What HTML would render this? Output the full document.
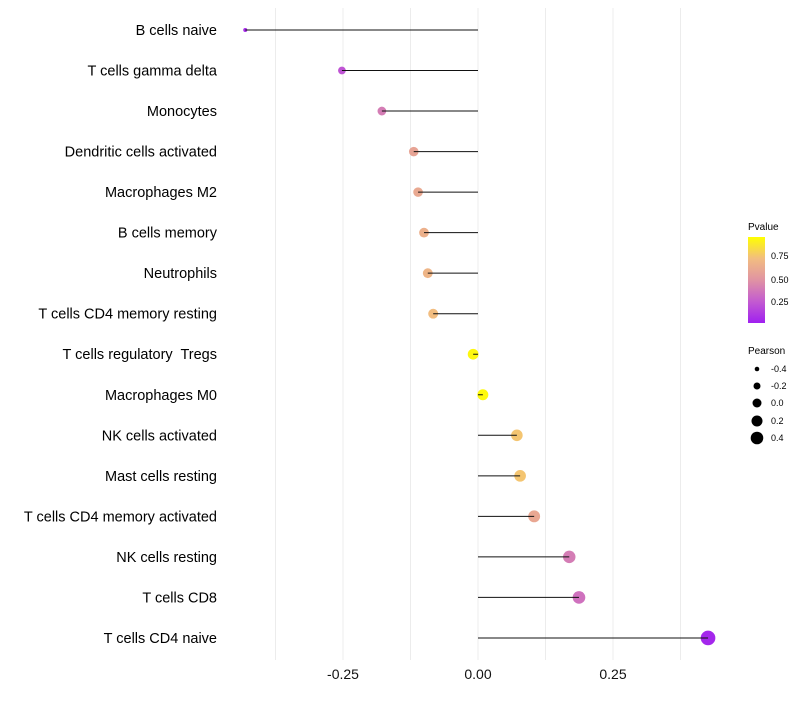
<!DOCTYPE html>
<html><head><meta charset="utf-8"><style>
body{margin:0;background:#fff;font-family:"Liberation Sans",sans-serif}
text{white-space:pre}
</style></head><body>
<svg id="chart" width="800" height="700" xmlns="http://www.w3.org/2000/svg">
<defs><linearGradient id="pg" x1="0" y1="1" x2="0" y2="0">
<stop offset="0" stop-color="#a020f0"/><stop offset="0.25" stop-color="#c35bd0"/><stop offset="0.5" stop-color="#e093a3"/><stop offset="0.75" stop-color="#f2bd80"/><stop offset="1" stop-color="#ffff00"/>
</linearGradient></defs>
<g id="grid"></g><g id="dots"></g><g id="marks"></g><g id="labels"></g>
<g font-size="9">
<text x="748" y="230" font-size="10">Pvalue</text>
<rect x="748" y="237" width="17" height="86" fill="url(#pg)"/>
<text x="771" y="259">0.75</text><text x="771" y="283">0.50</text><text x="771" y="305">0.25</text>
</g>
<g font-size="9">
<text x="748" y="354" font-size="10">Pearson</text>
<circle cx="757" cy="369" r="2.3"/><text x="771" y="372">-0.4</text>
<circle cx="757" cy="386" r="3.5"/><text x="771" y="389">-0.2</text>
<circle cx="757" cy="403" r="4.5"/><text x="771" y="406">0.0</text>
<circle cx="757" cy="421" r="5.5"/><text x="771" y="424">0.2</text>
<circle cx="757" cy="438" r="6.3"/><text x="771" y="441">0.4</text>
</g>
</svg>
<script>
const categories=["B cells naive","T cells gamma delta","Monocytes","Dendritic cells activated","Macrophages M2","B cells memory","Neutrophils","T cells CD4 memory resting","T cells regulatory  Tregs","Macrophages M0","NK cells activated","Mast cells resting","T cells CD4 memory activated","NK cells resting","T cells CD8","T cells CD4 naive"];
const pearson=[-0.431,-0.252,-0.178,-0.119,-0.111,-0.1,-0.093,-0.083,-0.009,0.009,0.072,0.078,0.104,0.169,0.187,0.426];
const pvalue=[0.05,0.22,0.4,0.6,0.63,0.67,0.7,0.75,0.97,0.98,0.78,0.78,0.62,0.4,0.35,0.03];
const tickVals=[-0.25,0,0.25];
const tickLabels=["-0.25","0.00","0.25"];
const NS="http://www.w3.org/2000/svg";
const xs=v=>478+v*540;
const ys=i=>30+i*40.53;
const rs=v=>Math.sqrt(3+(v+0.431)*54)+0.3;
function col(p){const st=[[0,[160,32,240]],[0.25,[195,91,208]],[0.5,[224,147,163]],[0.75,[242,189,128]],[1,[255,255,0]]];
for(let i=1;i<st.length;i++){if(p<=st[i][0]){const a=st[i-1],b=st[i],t=(p-a[0])/(b[0]-a[0]);return `rgb(${a[1].map((c,k)=>Math.round(c+t*(b[1][k]-c))).join(',')})`;}}return 'rgb(255,255,0)';}
function mk(t,a,p){const e=document.createElementNS(NS,t);for(const k in a)e.setAttribute(k,a[k]);p.appendChild(e);return e;}
const g=document.getElementById('grid'),m=document.getElementById('marks'),dg=document.getElementById('dots'),l=document.getElementById('labels');
[-0.375,-0.25,-0.125,0,0.125,0.25,0.375].forEach(v=>{const e=mk('line',{x1:xs(v),x2:xs(v),y1:8,y2:660,stroke:'#ececec','stroke-width':1},g);

});
tickVals.forEach((v,i)=>{const t=mk('text',{x:xs(v),y:679,'text-anchor':'middle','font-size':14,fill:'#111'},l);t.textContent=tickLabels[i];

});
categories.forEach((c,i)=>{const y=ys(i);
const t=mk('text',{x:217,y:y+5,'text-anchor':'end','font-size':14.5,fill:'#000'},l);t.textContent=c;


const d=mk('circle',{cx:xs(pearson[i]),cy:y,r:rs(pearson[i]),fill:col(pvalue[i])},dg);


const ln=mk('line',{x1:xs(0),x2:xs(pearson[i]),y1:y,y2:y,stroke:'#111','stroke-width':1},m);

});
</script>
</body></html>
